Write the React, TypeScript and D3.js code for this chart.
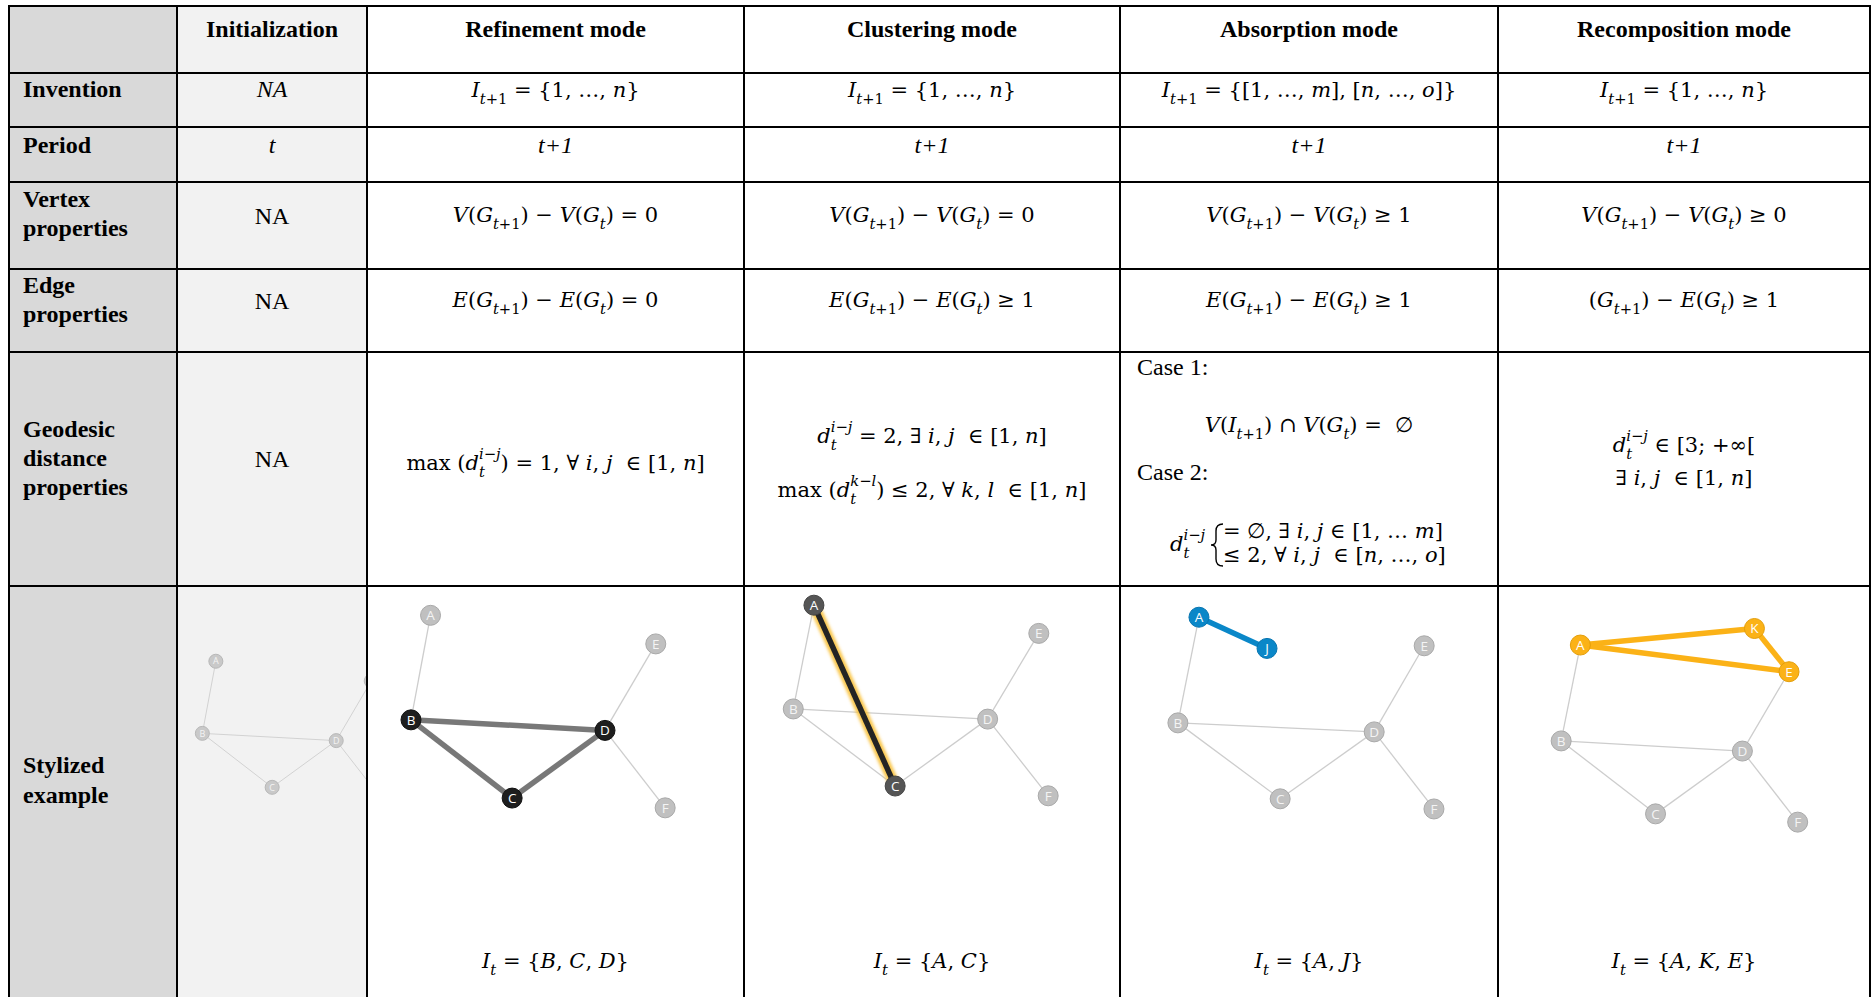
import React from "react";
import * as d3 from "d3";

const WIDTH = 1872;
const HEIGHT = 997;

// ---- table content ----
const columnHeaders = ["Initialization", "Refinement mode", "Clustering mode", "Absorption mode", "Recomposition mode"];
const rowLabels = [["Invention"], ["Period"], ["Vertex", "properties"], ["Edge", "properties"], ["Geodesic", "distance", "properties"], ["Stylized", "example"]];
const initializationCells = ["NA", "t", "NA", "NA", "NA"];
const inventionCells = ["I_{t+1} = {1, …, n}", "I_{t+1} = {1, …, n}", "I_{t+1} = {[1, …, m], [n, …, o]}", "I_{t+1} = {1, …, n}"];
const periodCells = ["t+1", "t+1", "t+1", "t+1"];
const vertexCells = ["V(G_{t+1}) − V(G_{t}) = 0", "V(G_{t+1}) − V(G_{t}) = 0", "V(G_{t+1}) − V(G_{t}) ≥ 1", "V(G_{t+1}) − V(G_{t}) ≥ 0"];
const edgeCells = ["E(G_{t+1}) − E(G_{t}) = 0", "E(G_{t+1}) − E(G_{t}) ≥ 1", "E(G_{t+1}) − E(G_{t}) ≥ 1", "(G_{t+1}) − E(G_{t}) ≥ 1"];
const refinementGeodesic = ["max (d_{t}^{i−j}) = 1, ∀ i, j  ∈ [1, n]"];
const clusteringGeodesic = ["d_{t}^{i−j} = 2, ∃ i, j  ∈ [1, n]", "max (d_{t}^{k−l}) ≤ 2, ∀ k, l  ∈ [1, n]"];
const absorptionCase1 = "V(I_{t+1}) ∩ V(G_{t}) =  ∅";
const absorptionCase2 = ["= ∅, ∃ i, j ∈ [1, … m]", "≤ 2, ∀ i, j  ∈ [n, …, o]"];
const recompositionGeodesic = ["d_{t}^{i−j} ∈ [3; +∞[", "∃ i, j  ∈ [1, n]"];
const exampleLabels = ["I_{t} = {B, C, D}", "I_{t} = {A, C}", "I_{t} = {A, J}", "I_{t} = {A, K, E}"];

// ---- graph data (layout units, 0-100 across a cell) ----
const baseEdges = [["A", "B"], ["B", "C"], ["B", "D"], ["C", "D"], ["D", "E"], ["D", "F"]];
const refinementNodes = [
  { id: "A", x: 16.9, y: 7.8 }, { id: "B", x: 11.7, y: 35.6 }, { id: "C", x: 38.6, y: 56.4 },
  { id: "D", x: 63.3, y: 38.4 }, { id: "E", x: 76.8, y: 15.4 }, { id: "F", x: 79.3, y: 59.0 },
];
const clusteringNodes = [
  { id: "A", x: 18.6, y: 5.1 }, { id: "B", x: 13.1, y: 32.7 }, { id: "C", x: 40.2, y: 53.2 },
  { id: "D", x: 64.8, y: 35.4 }, { id: "E", x: 78.4, y: 12.6 }, { id: "F", x: 80.9, y: 55.8 },
];
const absorptionNodes = [
  { id: "A", x: 21.0, y: 8.3 }, { id: "J", x: 39.1, y: 16.6 }, { id: "B", x: 15.4, y: 36.4 },
  { id: "C", x: 42.6, y: 56.6 }, { id: "D", x: 67.6, y: 38.8 }, { id: "E", x: 80.9, y: 15.9 },
  { id: "F", x: 83.5, y: 59.3 },
];
const recompositionNodes = [
  { id: "A", x: 21.9, y: 15.7 }, { id: "K", x: 68.2, y: 11.3 }, { id: "E", x: 77.4, y: 22.8 },
  { id: "B", x: 16.8, y: 41.2 }, { id: "D", x: 65.0, y: 43.9 }, { id: "C", x: 41.9, y: 60.6 },
  { id: "F", x: 79.7, y: 62.8 },
];
const refinementHighlight = { edges: [["B", "D"], ["B", "C"], ["C", "D"]], nodes: ["B", "C", "D"] };
const clusteringHighlight = { edges: [["A", "C"]], nodes: ["A", "C"] };
const absorptionHighlight = { edges: [["A", "J"]], nodes: ["A", "J"] };
const recompositionHighlight = { edges: [["A", "K"], ["A", "E"], ["K", "E"]], nodes: ["A", "K", "E"] };

// ---- layout ----
const COLS = [9, 177, 367, 744, 1120, 1498, 1870];
const ROWS = [6, 73, 127, 182, 269, 352, 586, 1010];
const TEXT_FONT = "'Liberation Serif', 'Times New Roman', serif";
const MATH_FONT = "'DejaVu Serif', serif";
const TEXT_SIZE = 24;
const MATH_SIZE = 21;
const ROMAN_WORDS = ["max"];

type Seg = { text: string; italic: boolean; pos: "base" | "sub" | "sup"; back: number };

function parseMath(src: string, size: number): Seg[] {
  const segs: Seg[] = [];
  let i = 0;
  let lastSubW = 0;
  let prevWasSub = false;
  const add = (text: string, italic: boolean, pos: Seg["pos"], back = 0) => {
    const last = segs[segs.length - 1];
    if (last && !back && last.italic === italic && last.pos === pos) last.text += text;
    else segs.push({ text, italic, pos, back });
  };
  while (i < src.length) {
    const ch = src[i];
    if ((ch === "_" || ch === "^") && src[i + 1] === "{") {
      const end = src.indexOf("}", i + 2);
      const inner = src.slice(i + 2, end);
      const pos = ch === "_" ? "sub" : "sup";
      const back = pos === "sup" && prevWasSub ? lastSubW : 0;
      [...inner].forEach((c, k) => add(c, /[A-Za-z]/.test(c), pos, k === 0 ? back : 0));
      if (pos === "sub") {
        lastSubW = inner.length * 0.4 * size * 0.7;
        prevWasSub = true;
      } else prevWasSub = false;
      i = end + 1;
      continue;
    }
    prevWasSub = false;
    if (/[A-Za-z]/.test(ch)) {
      let j = i;
      while (j < src.length && /[A-Za-z]/.test(src[j])) j++;
      const word = src.slice(i, j);
      add(word, !ROMAN_WORDS.includes(word), "base");
      i = j;
      continue;
    }
    add(ch, false, "base");
    i++;
  }
  return segs;
}

const MathLine = ({ src, x, y, size = MATH_SIZE, anchor = "middle" }: any) => {
  const segs = parseMath(src, size);
  let cur = 0;
  return (
    <text x={x} y={y} textAnchor={anchor} fontFamily={MATH_FONT} fontSize={size} fill="#000" style={{ whiteSpace: "pre" }}>
      {segs.map((s, k) => {
        const target = s.pos === "sub" ? size * 0.32 : s.pos === "sup" ? -size * 0.52 : 0;
        const dy = target - cur;
        cur = target;
        return (
          <tspan key={k} dx={s.back ? -s.back : undefined} dy={dy !== 0 ? dy : undefined}
            fontStyle={s.italic ? "italic" : "normal"} fontSize={s.pos === "base" ? size : size * 0.7}>
            {s.text}
          </tspan>
        );
      })}
    </text>
  );
};

const modeStyles: Record<string, any> = {
  init: { nodeFill: "#c9c9c9", nodeStroke: "#b8b8b8", edge: "#d2d2d2" },
  refinement: { hiEdge: "#787878", hiFill: "#1e1e1e", hiStroke: "#111" },
  clustering: { hiEdge: "#242424", glow: "#f9c23c", hiFill: "#555555", hiStroke: "#444" },
  absorption: { hiEdge: "#0a87c8", hiFill: "#0a87c8", hiStroke: "#0875b0" },
  recomposition: { hiEdge: "#fbb217", hiFill: "#fbb217", hiStroke: "#e39e0a" },
};

const GraphPanel = ({ nodes, highlight, mode, left, top, unit, r, fontSize, clip }: any) => {
  const x = d3.scaleLinear().domain([0, 100]).range([left, left + 100 * unit]);
  const y = d3.scaleLinear().domain([0, 100]).range([top, top + 100 * unit]);
  const byId = new Map(nodes.map((n: any) => [n.id, n]));
  const st = modeStyles[mode];
  const hiEdges = highlight ? highlight.edges : [];
  const hiNodes = highlight ? highlight.nodes : [];
  const line = d3.line<any>().x((d) => x(d.x)).y((d) => y(d.y));
  const isHi = (e: string[]) => hiEdges.some((h: string[]) => (h[0] === e[0] && h[1] === e[1]) || (h[0] === e[1] && h[1] === e[0]));
  const thin = baseEdges.filter((e) => !isHi(e) && byId.has(e[0]) && byId.has(e[1]));
  return (
    <g clipPath={clip ? `url(#${clip})` : undefined}>
      {thin.map((e, k) => (
        <path key={"t" + k} d={line([byId.get(e[0]), byId.get(e[1])]) || ""} stroke={mode === "init" ? st.edge : "#cdcdcd"}
          strokeWidth={mode === "init" ? 1 : 1.3} fill="none" />
      ))}
      {hiEdges.map((e: string[], k: number) => (
        <g key={"h" + k}>
          {st.glow && (
            <path d={line([byId.get(e[0]), byId.get(e[1])]) || ""} stroke={st.glow} strokeWidth={11} strokeOpacity={0.9}
              fill="none" filter="url(#glowBlur)" />
          )}
          <path d={line([byId.get(e[0]), byId.get(e[1])]) || ""} stroke={st.hiEdge} strokeWidth={5.5} fill="none" />
        </g>
      ))}
      {nodes.map((n: any) => {
        const hi = hiNodes.includes(n.id);
        return (
          <g key={n.id} transform={`translate(${x(n.x)},${y(n.y)})`}>
            <circle r={r} fill={hi ? st.hiFill : mode === "init" ? st.nodeFill : "#c0c0c0"}
              stroke={hi ? st.hiStroke : mode === "init" ? st.nodeStroke : "#a9a9a9"} strokeWidth={1} />
            <text textAnchor="middle" dy="0.36em" fontFamily="'Open Sans', sans-serif" fontSize={fontSize}
              fill={hi ? "#ffffff" : "#f4f4f4"}>{n.id}</text>
          </g>
        );
      })}
    </g>
  );
};

export default function App() {
  const colCenter = (c: number) => (COLS[c] + COLS[c + 1]) / 2;
  const unit = 3.76;
  const top = ROWS[6];
  const headerBaseline = 37;
  const labelBaselines = [[97], [153], [207, 235.5], [293, 321.5], [437, 466, 495], [773, 803]];
  const rowBaselines = [97, 153, 222, 307];
  const rowMath = [inventionCells, periodCells, vertexCells, edgeCells];

  return (
    <svg width={WIDTH} height={HEIGHT} style={{ position: "fixed", left: 0, top: 0, background: "#fff" }}>
      <defs>
        <clipPath id="initClip">
          <rect x={COLS[1]} y={ROWS[6]} width={COLS[2] - COLS[1]} height={HEIGHT - ROWS[6]} />
        </clipPath>
        <filter id="glowBlur" x="-50%" y="-50%" width="200%" height="200%">
          <feGaussianBlur stdDeviation="1.4" />
        </filter>
      </defs>
      <rect width={WIDTH} height={HEIGHT} fill="#fff" />
      {/* column backgrounds */}
      <rect x={COLS[0]} y={ROWS[0]} width={COLS[1] - COLS[0]} height={HEIGHT} fill="#d9d9d9" />
      <rect x={COLS[1]} y={ROWS[0]} width={COLS[2] - COLS[1]} height={HEIGHT} fill="#f2f2f2" />

      {/* headers */}
      {columnHeaders.map((h, i) => (
        <text key={h} x={colCenter(i + 1)} y={headerBaseline} textAnchor="middle" fontFamily={TEXT_FONT}
          fontWeight="bold" fontSize={TEXT_SIZE}>{h}</text>
      ))}

      {/* row labels */}
      {rowLabels.map((lines, r) =>
        lines.map((l, k) => (
          <text key={l + r + k} x={23} y={labelBaselines[r][k]} fontFamily={TEXT_FONT} fontWeight="bold" fontSize={TEXT_SIZE}>{l}</text>
        ))
      )}

      {/* initialization column */}
      {initializationCells.map((t, r) => (
        <text key={"init" + r} x={colCenter(1)} y={r < 4 ? rowBaselines[r] + (r >= 2 ? 2 : 0) : 467} textAnchor="middle"
          fontFamily={TEXT_FONT} fontStyle={r < 2 ? "italic" : "normal"} fontSize={TEXT_SIZE}>{t}</text>
      ))}

      {/* simple rows */}
      {rowMath.map((cells, r) =>
        cells.map((c, i) =>
          r === 1 ? (
            <text key={"p" + i} x={colCenter(i + 2)} y={rowBaselines[r]} textAnchor="middle" fontFamily={TEXT_FONT}
              fontStyle="italic" fontSize={TEXT_SIZE}>{c}</text>
          ) : (
            <MathLine key={"m" + r + i} src={c} x={colCenter(i + 2)} y={rowBaselines[r]} />
          )
        )
      )}

      {/* geodesic distance row */}
      <MathLine src={refinementGeodesic[0]} x={colCenter(2)} y={470} />
      <MathLine src={clusteringGeodesic[0]} x={colCenter(3)} y={443} />
      <MathLine src={clusteringGeodesic[1]} x={colCenter(3)} y={497} />
      <text x={1137} y={375} fontFamily={TEXT_FONT} fontSize={TEXT_SIZE}>Case 1:</text>
      <MathLine src={absorptionCase1} x={colCenter(4)} y={432} />
      <text x={1137} y={480} fontFamily={TEXT_FONT} fontSize={TEXT_SIZE}>Case 2:</text>
      <MathLine src={"d_{t}^{i−j}"} x={1170} y={551} anchor="start" />
      <path d="M1223,524 Q1216,524 1216,531 L1216,540 Q1216,545 1211,545 Q1216,545 1216,550 L1216,559 Q1216,566 1223,566"
        fill="none" stroke="#000" strokeWidth={1.4} />
      <MathLine src={absorptionCase2[0]} x={1223} y={538} anchor="start" />
      <MathLine src={absorptionCase2[1]} x={1223} y={562} anchor="start" />
      <MathLine src={recompositionGeodesic[0]} x={colCenter(5)} y={452} />
      <MathLine src={recompositionGeodesic[1]} x={colCenter(5)} y={485} />

      {/* stylized examples */}
      <GraphPanel nodes={refinementNodes} mode="init" left={COLS[1] - 5} top={top + 55} unit={unit * 0.69} r={7} fontSize={9} clip="initClip" />
      <GraphPanel nodes={refinementNodes} highlight={refinementHighlight} mode="refinement" left={COLS[2]} top={top} unit={unit} r={10} fontSize={13.5} />
      <GraphPanel nodes={clusteringNodes} highlight={clusteringHighlight} mode="clustering" left={COLS[3]} top={top} unit={unit} r={10} fontSize={13.5} />
      <GraphPanel nodes={absorptionNodes} highlight={absorptionHighlight} mode="absorption" left={COLS[4]} top={top} unit={unit} r={10} fontSize={13.5} />
      <GraphPanel nodes={recompositionNodes} highlight={recompositionHighlight} mode="recomposition" left={COLS[5]} top={top} unit={unit} r={10} fontSize={13.5} />
      {exampleLabels.map((l, i) => (
        <MathLine key={l} src={l} x={colCenter(i + 2)} y={968} />
      ))}

      {/* grid lines */}
      {ROWS.slice(0, 7).map((y) => (
        <line key={"r" + y} x1={COLS[0] - 1} x2={COLS[6] + 1} y1={y} y2={y} stroke="#000" strokeWidth={2} />
      ))}
      {COLS.map((x) => (
        <line key={"c" + x} x1={x} x2={x} y1={ROWS[0] - 1} y2={HEIGHT} stroke="#000" strokeWidth={2} />
      ))}
    </svg>
  );
}
